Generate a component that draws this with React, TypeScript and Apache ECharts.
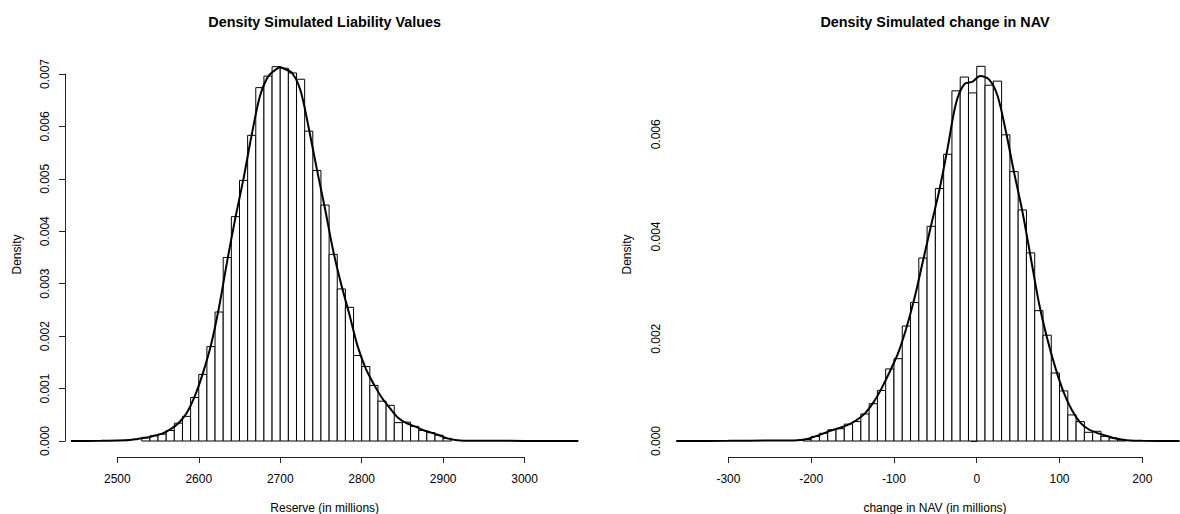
import React, { useEffect, useRef } from "react";
import * as echarts from "echarts";

// ---------- Data ----------
const liabilityBreaks = [
  2530, 2540, 2550, 2560, 2570, 2580, 2590, 2600, 2610, 2620, 2630, 2640, 2650,
  2660, 2670, 2680, 2690, 2700, 2710, 2720, 2730, 2740, 2750, 2760, 2770, 2780,
  2790, 2800, 2810, 2820, 2830, 2840, 2850, 2860, 2870, 2880, 2890, 2900, 2910,
];
const liabilityDensity = [
  0.00007, 0.0001, 0.00013, 0.0002, 0.00034, 0.00047, 0.00083, 0.00127, 0.0018,
  0.00246, 0.0035, 0.00428, 0.00497, 0.00583, 0.00674, 0.00696, 0.00714, 0.00711,
  0.00702, 0.0069, 0.00591, 0.00516, 0.0045, 0.00356, 0.0029, 0.00255, 0.00163,
  0.00142, 0.00106, 0.00076, 0.00068, 0.00035, 0.00036, 0.00028, 0.0002, 0.00016,
  0.00011, 0.00005,
];
const liabilityCurveX = [
  2443, 2480, 2500, 2515, 2525, 2535, 2545, 2555, 2565, 2575, 2585, 2595, 2605,
  2615, 2625, 2635, 2645, 2655, 2665, 2675, 2685, 2695, 2700, 2705, 2715, 2725,
  2735, 2745, 2755, 2765, 2775, 2785, 2795, 2805, 2815, 2825, 2835, 2845, 2855,
  2865, 2875, 2885, 2895, 2905, 2915, 2925, 2960, 3000, 3066,
];
const liabilityCurveY = [
  0, 0.000003, 0.00001, 0.00002, 0.00004, 0.00006, 0.0001, 0.00014, 0.00022,
  0.00034, 0.00053, 0.00085, 0.00129, 0.00183, 0.00256, 0.00344, 0.00426,
  0.00501, 0.00584, 0.00657, 0.00695, 0.00709, 0.00713, 0.0071, 0.00701,
  0.00668, 0.00597, 0.00518, 0.00443, 0.00363, 0.00298, 0.00241, 0.00181,
  0.00138, 0.00108, 0.00082, 0.00062, 0.00044, 0.00034, 0.00028, 0.00021,
  0.00016, 0.00011, 0.00005, 0.00002, 0.000005, 0.000003, 0.000002, 0,
];
const liabilityTicks = [2500, 3000];
const liabilityYTicks = [0, 0.007];

const navBreaks = [
  -210, -200, -190, -180, -170, -160, -150, -140, -130, -120, -110, -100, -90,
  -80, -70, -60, -50, -40, -30, -20, -10, 0, 10, 20, 30, 40, 50, 60, 70, 80, 90,
  100, 110, 120, 130, 140, 150, 160, 170, 180,
];
const navDensity = [
  0.00003, 0.00009, 0.00015, 0.00022, 0.00024, 0.00033, 0.00038, 0.00053,
  0.00073, 0.00099, 0.00141, 0.00161, 0.00225, 0.00271, 0.00358, 0.0042, 0.00494,
  0.00561, 0.00685, 0.00712, 0.00681, 0.00733, 0.00696, 0.00704, 0.00599,
  0.00527, 0.00452, 0.00368, 0.00255, 0.00207, 0.00133, 0.00098, 0.00051,
  0.00038, 0.00017, 0.00019, 0.00009, 0.00006, 0.00002,
];
const navCurveX = [
  -363, -300, -250, -220, -213, -205, -195, -185, -175, -165, -155, -145, -135,
  -125, -115, -105, -95, -85, -75, -65, -55, -45, -35, -25, -15, -5, 4, 15, 25,
  35, 45, 55, 65, 75, 85, 95, 105, 115, 125, 135, 145, 155, 165, 175, 185, 200,
  245,
];
const navCurveY = [
  0, 0.000003, 0.00001, 0.00001, 0.00002, 0.00004, 0.00009, 0.00015, 0.00021,
  0.00026, 0.00032, 0.00041, 0.00054, 0.00075, 0.00103, 0.00136, 0.00172,
  0.00221, 0.00281, 0.00352, 0.00423, 0.00492, 0.00575, 0.00661, 0.00698,
  0.00703, 0.00714, 0.00707, 0.00676, 0.00607, 0.00526, 0.0045, 0.00361,
  0.00271, 0.00201, 0.00143, 0.00095, 0.0006, 0.00036, 0.00023, 0.00016,
  0.00011, 0.00006, 0.00003, 0.00001, 0.000003, 0,
];
const navTicks = [-300, 200];
const navYTicks = [0, 0.006];

const titles = ["Density Simulated Liability Values", "Density Simulated change in NAV"];
const xLabels = ["Reserve (in millions)", "change in NAV (in millions)"];
const yLabel = "Density";

// ---------- Chart ----------
const FONT = "'Liberation Sans', Arial, Helvetica, sans-serif";
const INK = "#000";
const AXIS = "#222";

function barData(breaks: number[], dens: number[]) {
  return dens.map((d, i) => [breaks[i], breaks[i + 1], d]);
}
function curveData(xs: number[], ys: number[]) {
  return xs.map((x, i) => [x, ys[i]]);
}

const renderBar = (params: any, api: any) => {
  const p0 = api.coord([api.value(0), api.value(2)]);
  const p1 = api.coord([api.value(1), 0]);
  return {
    type: "rect",
    shape: { x: p0[0], y: p0[1], width: p1[0] - p0[0], height: p1[1] - p0[1] },
    style: { fill: "#fff", stroke: INK, lineWidth: 1 },
  };
};

export default function App() {
  const ref = useRef<HTMLDivElement>(null);

  useEffect(() => {
    document.body.style.margin = "0";
    if (!ref.current) return;
    const chart = echarts.init(ref.current, undefined, { renderer: "svg" });

    const hiddenY = (gridIndex: number) => ({
      type: "value" as const,
      gridIndex,
      show: false,
      min: 0,
      max: 1,
    });

    const tickAxis = (gridIndex: number, ticks: number[]) => ({
      type: "value" as const,
      gridIndex,
      min: ticks[0],
      max: ticks[1],
      interval: 100,
      axisLine: { show: true, lineStyle: { color: AXIS, width: 1 } },
      axisTick: { show: true, length: 6, lineStyle: { color: AXIS, width: 1 } },
      axisLabel: {
        show: true,
        margin: 16,
        fontSize: 12,
        color: INK,
        fontFamily: FONT,
        formatter: (v: number) => String(v),
        showMinLabel: true,
        showMaxLabel: true,
      },
      splitLine: { show: false },
    });

    const densAxis = (gridIndex: number, ticks: number[], interval: number) => ({
      type: "value" as const,
      gridIndex,
      min: ticks[0],
      max: ticks[1],
      interval,
      axisLine: { show: true, lineStyle: { color: AXIS, width: 1 } },
      axisTick: { show: true, length: 6, lineStyle: { color: AXIS, width: 1 } },
      axisLabel: {
        show: true,
        rotate: 90,
        margin: 14,
        fontSize: 12,
        color: INK,
        fontFamily: FONT,
        formatter: (v: number) => v.toFixed(3),
        showMinLabel: true,
        showMaxLabel: true,
      },
      splitLine: { show: false },
    });

    const lineSeries = (idx: number, data: number[][]) => ({
      type: "line" as const,
      xAxisIndex: idx,
      yAxisIndex: idx,
      data,
      smooth: 0.3,
      showSymbol: false,
      symbol: "none",
      clip: false,
      z: 5,
      lineStyle: { color: INK, width: 2 },
    });

    const barSeries = (idx: number, data: number[][]) => ({
      type: "custom" as const,
      xAxisIndex: idx,
      yAxisIndex: idx,
      data,
      clip: false,
      z: 2,
      encode: { x: [0, 1], y: 2 },
      renderItem: renderBar,
    });

    const text = (
      str: string,
      x: number,
      y: number,
      opts: { bold?: boolean; size?: number; rot?: number } = {}
    ) => ({
      type: "text" as const,
      x,
      y,
      rotation: opts.rot || 0,
      style: {
        text: str,
        fill: INK,
        fontSize: opts.size || 12,
        fontWeight: opts.bold ? "bold" : "normal",
        fontFamily: FONT,
        align: "center",
        verticalAlign: "middle",
      },
    });

    chart.setOption({
      animation: false,
      backgroundColor: "#fff",
      grid: [
        { left: 65, right: 1180 - 584, top: 74, bottom: 514 - 441 },
        { left: 117.3, right: 1180 - 524.6, top: 74, bottom: 514 - 457 },
        { left: 676, right: 0, top: 134.3, bottom: 514 - 441 },
        { left: 728.4, right: 1180 - 1142.3, top: 134.3, bottom: 514 - 457 },
      ],
      xAxis: [
        { type: "value", gridIndex: 0, show: false, min: 2435.8, max: 3072.9 },
        tickAxis(1, liabilityTicks),
        { type: "value", gridIndex: 2, show: false, min: -363.3, max: 245.5 },
        tickAxis(3, navTicks),
      ],
      yAxis: [
        densAxis(0, liabilityYTicks, 0.001),
        hiddenY(1),
        densAxis(2, navYTicks, 0.002),
        hiddenY(3),
      ],
      series: [
        barSeries(0, barData(liabilityBreaks, liabilityDensity)),
        lineSeries(0, curveData(liabilityCurveX, liabilityCurveY)),
        barSeries(2, barData(navBreaks, navDensity)),
        lineSeries(2, curveData(navCurveX, navCurveY)),
      ],
      graphic: [
        text(titles[0], 324.7, 22, { bold: true, size: 14.4 }),
        text(titles[1], 935, 22, { bold: true, size: 14.4 }),
        text(xLabels[0], 324.7, 508),
        text(xLabels[1], 935, 508),
        text(yLabel, 17, 254.5, { rot: Math.PI / 2 }),
        text(yLabel, 627, 254.5, { rot: Math.PI / 2 }),
      ],
    });

    return () => chart.dispose();
  }, []);

  return <div ref={ref} style={{ width: 1180, height: 514 }} />;
}
